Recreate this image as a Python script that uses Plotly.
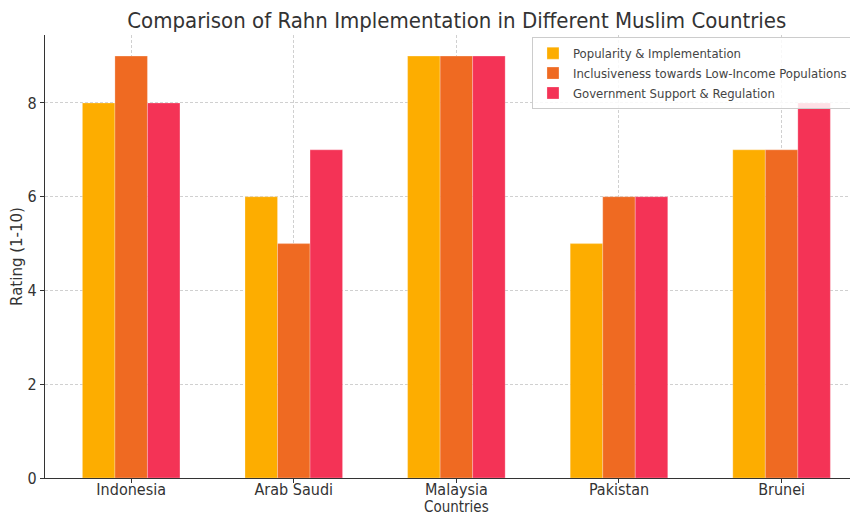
import plotly.graph_objects as go

countries = ["Indonesia", "Arab Saudi", "Malaysia", "Pakistan", "Brunei"]
popularity = [8, 6, 9, 5, 7]
inclusiveness = [9, 5, 9, 6, 7]
government = [8, 7, 9, 6, 8]

series = [
    ("Popularity & Implementation", popularity, "#FDAD00"),
    ("Inclusiveness towards Low-Income Populations", inclusiveness, "#EF6A22"),
    ("Government Support & Regulation", government, "#F43356"),
]

cond = "DejaVu Sans Condensed, DejaVu Sans"

fig = go.Figure()
for name, vals, color in series:
    fig.add_trace(go.Bar(
        x=countries, y=vals, name=name,
        marker=dict(color=color, line=dict(color="rgba(255,255,255,0.5)", width=0.5)),
    ))

# the page body adds an 8px offset, so the figure is 8px smaller than the window
fig.update_layout(
    width=850, height=507,
    barmode="group", bargap=0.4, bargroupgap=0,
    template="plotly_white",
    plot_bgcolor="white",
    font=dict(family=cond, size=15, color="#333333"),
    title=dict(text="Comparison of Rahn Implementation in Different Muslim Countries",
               x=0.528, xanchor="center", y=0.99, yanchor="top",
               font=dict(size=22, color="#333333")),
    margin=dict(l=37, r=0, t=27, b=37, autoexpand=False),
    legend=dict(x=0.599, y=0.995, xanchor="left", yanchor="top",
                bgcolor="rgba(255,255,255,0.85)", bordercolor="#cccccc", borderwidth=1,
                font=dict(size=13, color="#444444"), itemwidth=30, tracegroupgap=0),
)
# x-axis title as an annotation so it sits just under the tick labels
fig.add_annotation(text="Countries", xref="x", yref="paper", x=2, y=0,
                   yanchor="top", yshift=-18, showarrow=False,
                   font=dict(size=15, family=cond, color="#333333"))
fig.update_xaxes(
    range=[-0.53, 4.47], automargin=False,
    showline=True, linecolor="#333333", linewidth=1.2,
    ticks="outside", ticklen=4, tickcolor="#333333", ticklabelstandoff=-7,
    showgrid=True, gridcolor="#d0d0d0", griddash="3px,2px", gridwidth=0.8,
    tickfont=dict(size=16),
)
fig.update_yaxes(
    range=[0, 9.45], automargin=False,
    title=dict(text="Rating (1-10)", standoff=6, font=dict(size=15, family="DejaVu Sans")),
    tickvals=[0, 2, 4, 6, 8],
    showline=True, linecolor="#333333", linewidth=1.2,
    ticks="outside", ticklen=4, tickcolor="#333333",
    showgrid=True, gridcolor="#d0d0d0", griddash="3px,2px", gridwidth=0.8,
    zeroline=False, tickfont=dict(size=16),
)

fig.write_html("out.html")
